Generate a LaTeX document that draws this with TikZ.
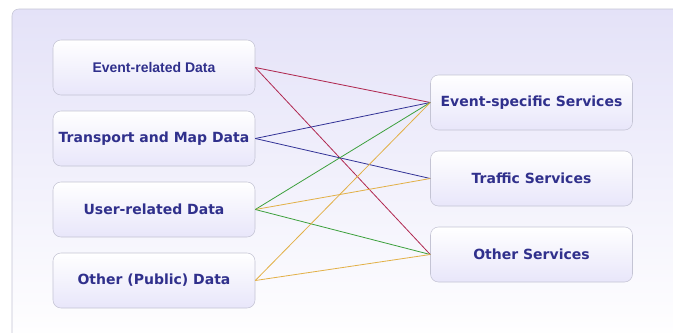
\documentclass[tikz,border=0pt]{standalone}
\usepackage{fontspec}
\setmainfont{DejaVu Sans}
\newfontfamily\arialfont{Liberation Sans}
\definecolor{boxtext}{RGB}{48,48,140}
\definecolor{panelback}{RGB}{228,226,248}
\definecolor{boxback}{RGB}{232,230,250}
\definecolor{boxline}{RGB}{196,196,212}
\definecolor{linkred}{RGB}{176,40,80}
\definecolor{linkblue}{RGB}{50,50,150}
\definecolor{linkgreen}{RGB}{60,160,60}
\definecolor{linkgold}{RGB}{226,176,70}
\tikzset{
  srcbox/.style={draw=boxline, rounded corners=6pt, top color=white, bottom color=boxback,
    minimum width=151.5pt, minimum height=41.25pt, inner sep=0pt,
    font=\fontsize{10.5}{12}\selectfont\bfseries, text=boxtext},
  link/.style={line width=0.6pt}
}
\begin{document}
\begin{tikzpicture}[x=0.75pt, y=-0.75pt]
	\useasboundingbox (0,0) rectangle (673,332);
	\draw[boxline, rounded corners=5pt, top color=panelback, bottom color=white] (12,9) rectangle (690,345);
	% data sources
	\node[srcbox, font=\arialfont\fontsize{10.5}{12}\selectfont\bfseries] (evdata) at (154,67.5) {Event-related Data};
	\node[srcbox] (mapdata) at (154,138.5) {Transport and Map Data};
	\node[srcbox] (userdata) at (154,209.5) {User-related Data};
	\node[srcbox] (pubdata) at (154,280.5) {Other (Public) Data};
	% services
	\node[srcbox] (evserv) at (531.5,102.5) {Event-specific Services};
	\node[srcbox] (trafserv) at (531.5,178.5) {Traffic Services};
	\node[srcbox] (othserv) at (531.5,254.5) {Other Services};
	% links
	\draw[link, linkred] (evdata.east) -- (evserv.west);
	\draw[link, linkred] (evdata.east) -- (othserv.west);
	\draw[link, linkblue] (mapdata.east) -- (evserv.west);
	\draw[link, linkblue] (mapdata.east) -- (trafserv.west);
	\draw[link, linkgreen] (userdata.east) -- (evserv.west);
	\draw[link, linkgold] (userdata.east) -- (trafserv.west);
	\draw[link, linkgreen] (userdata.east) -- (othserv.west);
	\draw[link, linkgold] (pubdata.east) -- (evserv.west);
	\draw[link, linkgold] (pubdata.east) -- (othserv.west);
\end{tikzpicture}
\end{document}
